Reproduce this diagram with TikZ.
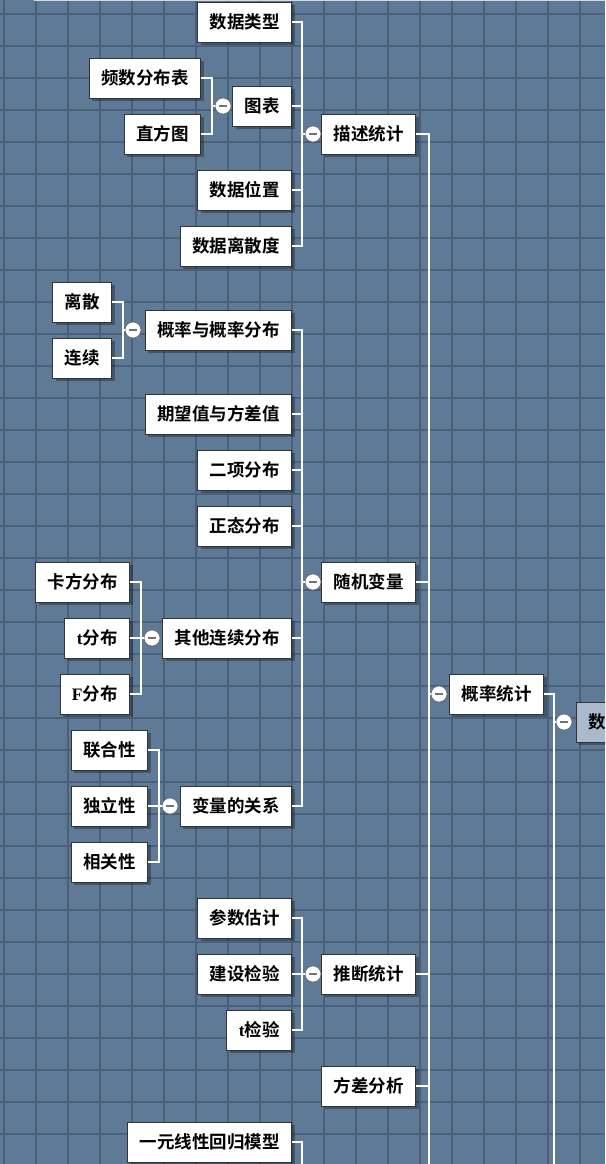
\documentclass[tikz,border=0pt]{standalone}
\usepackage{fontspec}
\setmainfont{Liberation Serif}
\newfontfamily\cjk{Noto Sans CJK SC Bold}
\usetikzlibrary{shadows}
\definecolor{board}{RGB}{94,122,150}
\definecolor{gridline}{RGB}{74,95,120}
\definecolor{rootfill}{RGB}{170,186,204}
\newcommand{\lat}[1]{{\rmfamily\bfseries #1}}
\begin{document}
\begin{tikzpicture}[x=1pt, y=-1pt,
    topic/.style={draw=black!80, fill=white, line width=0.8pt, minimum height=40pt,
        inner xsep=12pt, inner ysep=0pt, font=\cjk\fontsize{17.5}{20}\selectfont,
        drop shadow={shadow xshift=3pt, shadow yshift=-3pt, opacity=0.3, fill=black}},
    fold/.style={circle, draw=black!60, fill=white, line width=0.6pt, minimum size=16pt,
        inner sep=0pt, path picture={\draw[black!55, line width=1.2pt]
        ([xshift=-4pt]path picture bounding box.center) -- ([xshift=4pt]path picture bounding box.center);}},
    link/.style={draw=white, line width=1.4pt}]
    \useasboundingbox (0,0) rectangle (605,1164);
    \clip (0,0) rectangle (605,1164);

    % the board
    \fill[board] (0,0) rectangle (605,1164);
    \foreach \x in {4,36,...,604} \draw[gridline, line width=2pt] (\x,0) -- (\x,1164);
    \foreach \y in {14,46,...,1164} \draw[gridline, line width=2pt] (0,\y) -- (605,\y);
    \draw[black!15, line width=1.5pt] (34,0.5) -- (605,0.5);

    % descriptive statistics
    \node[topic, anchor=east] (dtype) at (292,22) {数据类型};
    \node[topic, anchor=east] (freq) at (201,78) {频数分布表};
    \node[topic, anchor=east] (hist) at (201,134) {直方图};
    \node[topic, anchor=east] (chart) at (292,106) {图表};
    \node[topic, anchor=east] (dpos) at (292,190) {数据位置};
    \node[topic, anchor=east] (dspread) at (292,246) {数据离散度};
    \node[topic, anchor=east] (desc) at (416,134) {描述统计};

    % random variables
    \node[topic, anchor=east] (discr) at (112,302) {离散};
    \node[topic, anchor=east] (cont) at (112,358) {连续};
    \node[topic, anchor=east] (pdist) at (292,330) {概率与概率分布};
    \node[topic, anchor=east] (expv) at (292,414) {期望值与方差值};
    \node[topic, anchor=east] (binom) at (292,470) {二项分布};
    \node[topic, anchor=east] (normal) at (292,526) {正态分布};
    \node[topic, anchor=east] (chisq) at (130,582) {卡方分布};
    \node[topic, anchor=east] (tdist) at (130,638) {\lat{t}分布};
    \node[topic, anchor=east] (fdist) at (130,694) {\lat{F}分布};
    \node[topic, anchor=east] (ocont) at (292,638) {其他连续分布};
    \node[topic, anchor=east] (joint) at (148,750) {联合性};
    \node[topic, anchor=east] (indep) at (148,806) {独立性};
    \node[topic, anchor=east] (corr) at (148,862) {相关性};
    \node[topic, anchor=east] (vrel) at (292,806) {变量的关系};
    \node[topic, anchor=east] (rvar) at (416,582) {随机变量};

    % inference
    \node[topic, anchor=east] (est) at (292,918) {参数估计};
    \node[topic, anchor=east] (hyp) at (292,974) {建设检验};
    \node[topic, anchor=east] (ttest) at (292,1030) {\lat{t}检验};
    \node[topic, anchor=east] (infer) at (416,974) {推断统计};
    \node[topic, anchor=east] (anova) at (416,1086) {方差分析};
    \node[topic, anchor=east] (regr) at (292,1142) {一元线性回归模型};

    \node[topic, anchor=east] (prob) at (544,694) {概率统计};
    \node[topic, fill=rootfill, anchor=west, text width=60pt, align=left] (root) at (576,722) {数};

    % fold buttons
    \node[fold] (f-chart) at (223,106) {};
    \node[fold] (f-desc) at (313,134) {};
    \node[fold] (f-pdist) at (133,330) {};
    \node[fold] (f-ocont) at (152,638) {};
    \node[fold] (f-vrel) at (170,806) {};
    \node[fold] (f-rvar) at (313,582) {};
    \node[fold] (f-infer) at (313,974) {};
    \node[fold] (f-prob) at (439,694) {};
    \node[fold] (f-root) at (564,722) {};

    % spines
    \coordinate (s-chart) at (212,106);
    \coordinate (s-desc) at (302,134);
    \coordinate (s-pdist) at (123,330);
    \coordinate (s-ocont) at (141,638);
    \coordinate (s-vrel) at (159,806);
    \coordinate (s-rvar) at (302,582);
    \coordinate (s-infer) at (302,974);
    \coordinate (s-prob) at (429,694);
    \coordinate (s-root) at (554,722);
    \coordinate (regr-end) at (302,1180);
    \coordinate (prob-end) at (429,1180);
    \coordinate (root-end) at (554,1180);

    % connectors
    \foreach \c in {freq,hist} \draw[link] (\c.east) -| (s-chart) -- (f-chart.west);
    \foreach \c in {dtype,chart,dpos,dspread} \draw[link] (\c.east) -| (s-desc) -- (f-desc.west);
    \foreach \c in {discr,cont} \draw[link] (\c.east) -| (s-pdist) -- (f-pdist.west);
    \foreach \c in {chisq,tdist,fdist} \draw[link] (\c.east) -| (s-ocont) -- (f-ocont.west);
    \foreach \c in {joint,indep,corr} \draw[link] (\c.east) -| (s-vrel) -- (f-vrel.west);
    \foreach \c in {pdist,expv,binom,normal,ocont,vrel} \draw[link] (\c.east) -| (s-rvar) -- (f-rvar.west);
    \foreach \c in {est,hyp,ttest} \draw[link] (\c.east) -| (s-infer) -- (f-infer.west);
    \foreach \c in {desc,rvar,infer,anova} \draw[link] (\c.east) -| (s-prob) -- (f-prob.west);
    \draw[link] (prob.east) -| (s-root) -- (f-root.west);
    \draw[link] (s-prob) -- (prob-end);
    \draw[link] (s-root) -- (root-end);
    \draw[link] (regr.east) -| (regr-end);
\end{tikzpicture}
\end{document}
